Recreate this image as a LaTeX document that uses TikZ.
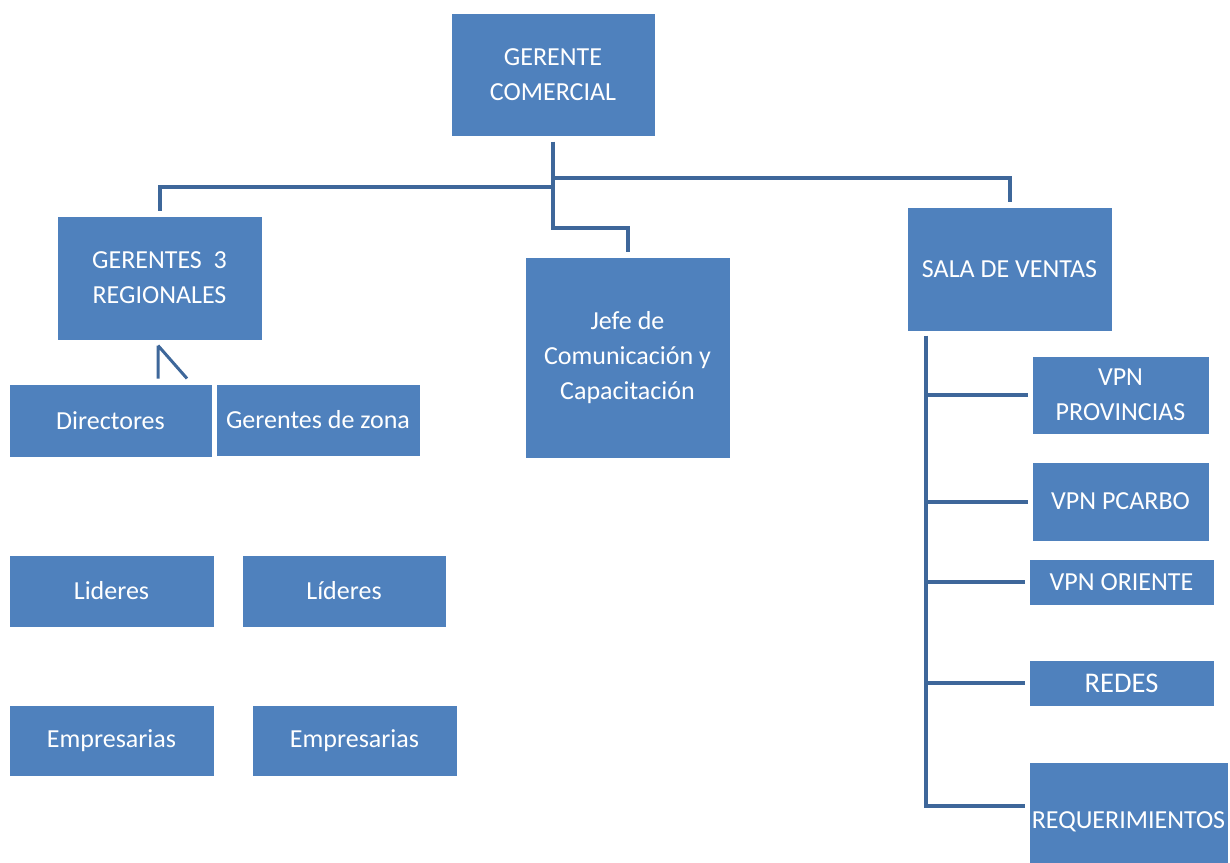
\documentclass[tikz,border=0pt]{standalone}
\usepackage{fontspec}
\setmainfont{Carlito}
\usetikzlibrary{positioning}
\definecolor{boxblue}{HTML}{4F81BD}
\definecolor{lineblue}{HTML}{3E679A}

\begin{document}
\begin{tikzpicture}[x=1pt,y=-1pt,
   box/.style={draw=white,line width=1pt,fill=boxblue,text=white,align=center,
      inner sep=0pt,font=\fontsize{26}{35}\selectfont},
   link/.style={draw=lineblue,line width=4pt}]
   \useasboundingbox (0,0) rectangle (1230,862);
   \node[box,minimum width=204pt,minimum height=123pt] (gc) at (553,74.5) {GERENTE\\COMERCIAL};
   \node[box,minimum width=205pt,minimum height=124pt] (gr) at (159.5,278) {GERENTES\ \ 3\\REGIONALES};
   \node[box,minimum width=205pt,minimum height=201pt] (jefe) at (627.5,357.5) {Jefe de\\Comunicación y\\Capacitación};
   \node[box,minimum width=205pt,minimum height=124pt] (sala) at (1009.5,269) {SALA DE VENTAS};
   \node[box,minimum width=203pt,minimum height=73pt] (dir) at (110.5,420.5) {Directores};
   \node[box,minimum width=204pt,minimum height=72pt] (gz) at (318,420) {Gerentes de zona};
   \node[box,minimum width=205pt,minimum height=72pt] (lid1) at (111.5,591) {Lideres};
   \node[box,minimum width=204pt,minimum height=72pt] (lid2) at (344,591) {Líderes};
   \node[box,minimum width=205pt,minimum height=71pt] (emp1) at (111.5,740.5) {Empresarias};
   \node[box,minimum width=205pt,minimum height=71pt] (emp2) at (354.5,740.5) {Empresarias};
   \node[box,minimum width=177pt,minimum height=78pt] (vprov) at (1120.5,395) {VPN\\PROVINCIAS};
   \node[box,minimum width=177pt,minimum height=79pt] (vpc) at (1120.5,501.5) {VPN PCARBO};
   \node[box,minimum width=185pt,minimum height=46pt] (vor) at (1121.5,582) {VPN ORIENTE};
   \node[box,minimum width=185pt,minimum height=46pt,font=\fontsize{28.5}{32}\selectfont] (redes) at (1121.5,683) {REDES};
   \node[box,minimum width=199pt,minimum height=120pt] (req) at (1128.5,822) {REQUERIMIENTOS};
   \coordinate (trunk) at ([xshift=19pt,yshift=-4pt]sala.south west);
   \draw[link] ([yshift=-5pt]gc.south) -- (553,228) -| ([yshift=5pt]jefe.north);
   \draw[link] (553,187) -| ([yshift=5pt]gr.north);
   \draw[link] (553,178) -| ([yshift=5pt]sala.north);
   \draw[link,line width=3pt] ([xshift=-1.5pt,yshift=-5pt]gr.south) -- ([xshift=-1.5pt,yshift=5pt]gr.south |- dir.north)
      ([xshift=-1.5pt,yshift=-5pt]gr.south) -- ([xshift=27.5pt,yshift=5pt]gr.south |- dir.north);
   \draw[link] (trunk) -- ([yshift=14pt]trunk |- req.west);
   \draw[link] (trunk |- vprov.west) -- ([xshift=-4pt]vprov.west);
   \draw[link] (trunk |- vpc.west) -- ([xshift=-4pt]vpc.west);
   \draw[link] (trunk |- vor.west) -- ([xshift=-4pt]vor.west);
   \draw[link] (trunk |- redes.west) -- ([xshift=-4pt]redes.west);
   \draw[link] ([yshift=16pt]trunk |- req.west) -- ([xshift=-4pt,yshift=16pt]req.west);
\end{tikzpicture}
\end{document}
